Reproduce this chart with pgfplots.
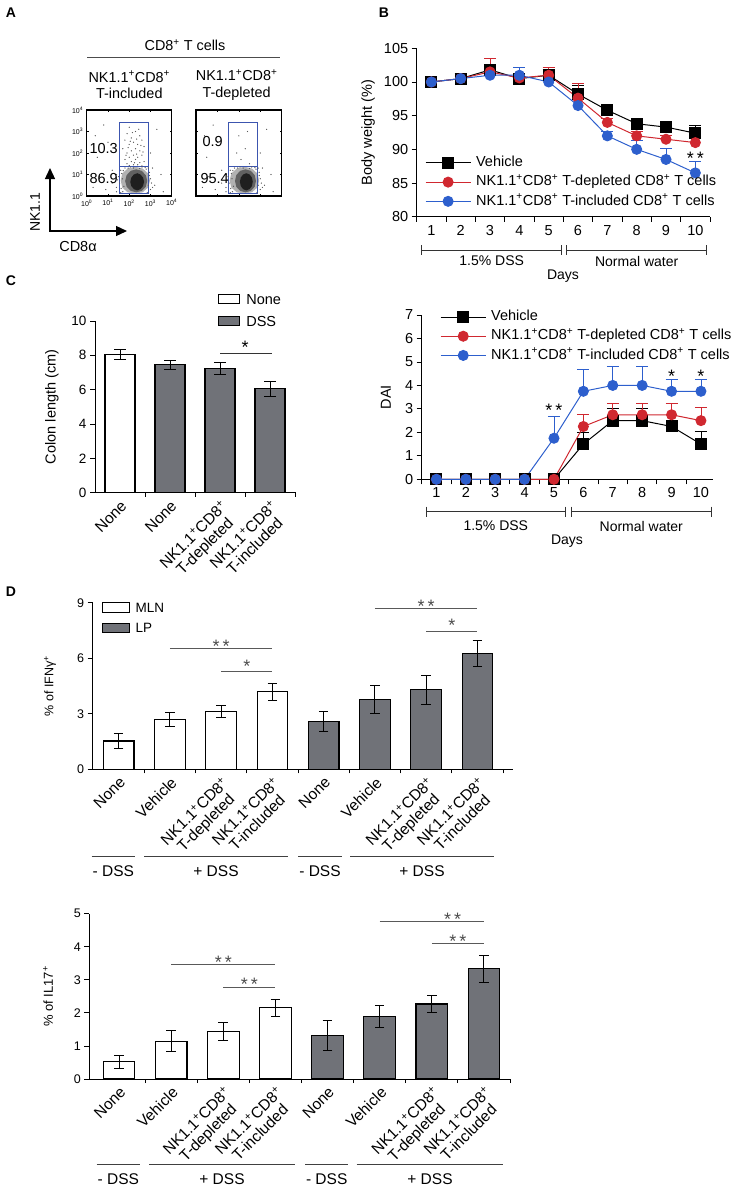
\documentclass[border=0pt]{standalone}
\usepackage{fontspec}
\setmainfont{Liberation Sans}
\usepackage{pgfplots}
\pgfplotsset{compat=1.18}
\usetikzlibrary{arrows.meta}
\definecolor{cred}{RGB}{208,40,48}
\definecolor{cblue}{RGB}{45,95,205}
\definecolor{barg}{RGB}{112,114,120}
\definecolor{gateblue}{RGB}{60,85,175}
\newcommand{\fs}[2]{\fontsize{#1pt}{#2pt}\selectfont}
\newcommand{\pl}{\textsuperscript{+}}
\pgfplotsset{
  base/.style={scale only axis, clip=false, anchor=south west,
    /pgf/number format/assume math mode=true,
    axis line style={-, line width=0.9pt},
    tick style={line width=0.8pt, black},
    tick label style={font=\fs{14.5}{16}},
    label style={font=\fs{14.5}{16}},
  },
  linechart/.style={base, axis x line*=bottom, axis y line*=left, tick align=outside,
    major tick length=5pt, minor tick length=5pt,
    xtick={1,...,10}, minor xtick={0.5,1.5,...,10.5}, major x tick style={draw=none},
    legend cell align=left,
    legend style={draw=none, fill=none, font=\fs{14.5}{16}, row sep=5.7pt, inner sep=0pt,
       nodes={inner sep=0pt, text height=10.5pt, text depth=3pt},
       /tikz/every odd column/.append style={column sep=5pt}},
  },
  lineleg/.style={legend image code/.code={\draw[mark repeat=2, mark phase=2, ##1] plot coordinates {(0pt,0pt) (22.5pt,0pt) (45pt,0pt)};}},
  ebl/.style={error bars/.cd, y dir=plus, y explicit, error bar style={line width=0.8pt, #1}, error mark options={rotate=90, mark size=6pt, line width=0.8pt, #1}},
  barchart/.style={base, ybar, bar shift=0pt, axis x line*=bottom, axis y line*=left, ymin=0,
    tick align=outside, major tick length=5pt, minor tick length=4pt, major x tick style={draw=none},
    xticklabel style={rotate=45, anchor=north east, align=center, font=\fs{15.5}{16}, inner sep=1pt},
    legend cell align=left,
    legend style={draw=none, fill=none, inner sep=0pt,
       nodes={inner sep=0pt, text height=10pt, text depth=0pt},
       /tikz/every odd column/.append style={column sep=6pt}},
  },
  barC/.style={legend image code/.code={\draw[##1] (0pt,-4.75pt) rectangle (21pt,4.75pt);}},
  barD/.style={legend image code/.code={\draw[##1] (0pt,-4.7pt) rectangle (26.6pt,4.7pt);}},
  ebb/.style={error bars/.cd, y dir=both, y explicit, error bar style={line width=0.9pt, black}, error mark options={rotate=90, mark size=#1, line width=0.9pt, black}},
  flow/.style={scale only axis, anchor=south west, xmin=0, xmax=4, ymin=0, ymax=4,
    xtick={0,...,4}, ytick={0,...,4}, tick align=inside, major tick length=2pt,
    axis line style={line width=1.2pt}, tick style={line width=0.6pt, black},
    tick label style={font=\fs{7}{8}}},
}
\begin{document}
\begin{tikzpicture}
\path[use as bounding box] (0pt,0pt) rectangle (734pt,-1188pt);

%================ Panel A =================
\begin{axis}[flow, at={(86.7pt,-196pt)}, width=85pt, height=86pt,
  xticklabels={10\textsuperscript{0},10\textsuperscript{1},10\textsuperscript{2},10\textsuperscript{3},10\textsuperscript{4}},
  yticklabels={10\textsuperscript{0},10\textsuperscript{1},10\textsuperscript{2},10\textsuperscript{3},10\textsuperscript{4}}]
\addplot[only marks, mark=*, mark size=0.35pt, black!65] coordinates {
(2.0,3.2)(2.3,3.0)(1.9,2.9)(2.5,2.8)(2.1,2.7)(2.6,2.6)(1.8,2.6)(2.2,2.5)(2.4,2.4)(2.0,2.4)
(2.7,2.3)(1.7,2.2)(2.3,2.2)(2.1,2.1)(2.5,2.1)(1.9,2.0)(2.6,1.9)(2.2,1.9)(2.4,1.8)(2.0,1.8)
(1.8,1.7)(2.3,1.7)(2.7,1.6)(2.1,1.6)(2.5,1.55)(1.9,1.5)(2.2,1.45)(2.4,1.45)(2.0,1.42)(2.6,1.4)
(2.35,2.65)(2.15,2.95)(2.45,3.1)(1.95,2.25)(2.55,2.35)(2.25,1.55)(2.05,2.55)(2.65,2.05)(1.85,1.9)(2.35,1.95)
(0.3,0.4)(0.6,0.9)(0.5,1.8)(0.9,0.3)(1.2,1.2)(1.0,2.5)(3.2,0.5)(3.5,1.0)(3.0,2.0)(3.3,3.1)
(0.8,3.3)(1.4,0.2)(3.1,1.3)(1.2,0.6)(1.4,1.0)(3.0,0.3)(3.6,0.2)(0.4,2.8)
(1.4,0.4)(1.5,0.9)(1.6,1.2)(1.7,0.2)(3.0,0.8)(2.95,1.1)(1.55,0.6)(1.65,1.05)(2.9,0.5)(1.8,1.3)
(2.8,1.25)(2.2,1.3)(2.5,1.28)(1.75,0.45)(1.45,0.75)(3.05,0.6)(2.85,0.15)(1.6,0.15)
(1.62,0.35)(1.68,0.8)(1.72,1.18)(2.95,0.95)(2.9,1.3)(2.75,1.32)(2.05,1.35)(1.95,1.3)(2.6,1.35)(3.1,0.4)};
\addplot[fill=black!30, draw=none] coordinates {(2.98,0.72)(2.886,1.05)(2.63,1.28)(2.28,1.36)(1.93,1.28)(1.674,1.05)(1.6,0.72)(1.674,0.39)(1.93,0.17)(2.28,0.12)(2.63,0.17)(2.886,0.39)};
\addplot[fill=black!62, draw=none] coordinates {(2.85,0.7)(2.78,0.97)(2.59,1.17)(2.33,1.24)(2.07,1.17)(1.88,0.97)(1.81,0.7)(1.88,0.43)(2.07,0.24)(2.33,0.17)(2.59,0.24)(2.78,0.43)};
\addplot[fill=black!88, draw=none] coordinates {(2.7,0.66)(2.65,0.86)(2.53,1.0)(2.38,1.06)(2.22,1.0)(2.1,0.86)(2.05,0.66)(2.1,0.46)(2.22,0.32)(2.38,0.26)(2.53,0.32)(2.65,0.46)};
\addplot[gateblue, line width=0.9pt] coordinates {(1.53,1.36)(2.9,1.36)(2.9,3.43)(1.53,3.43)(1.53,1.36)};
\addplot[gateblue, line width=0.9pt] coordinates {(1.53,0.13)(2.9,0.13)(2.9,1.36)(1.53,1.36)(1.53,0.13)};
\end{axis}

\begin{axis}[flow, at={(196pt,-196pt)}, width=85.7pt, height=86pt, xticklabels={}, yticklabels={}]
\addplot[only marks, mark=*, mark size=0.35pt, black!65] coordinates {
(2.0,2.8)(2.3,2.2)(2.1,1.7)(2.5,1.5)(1.9,2.0)(2.4,3.0)
(0.3,0.4)(0.6,0.9)(0.5,1.8)(0.9,0.3)(1.2,1.2)(1.0,2.5)(3.2,0.5)(3.5,1.0)(3.0,2.0)(3.3,3.1)
(0.8,3.3)(1.4,0.2)(3.1,1.3)(1.2,0.6)(1.4,1.0)(3.0,0.3)(3.6,0.2)(0.4,2.8)
(1.4,0.4)(1.5,0.9)(1.6,1.2)(1.7,0.2)(3.0,0.8)(2.95,1.1)(1.55,0.6)(1.65,1.05)(2.9,0.5)(1.8,1.3)
(2.8,1.25)(2.2,1.3)(2.5,1.28)(1.75,0.45)(1.45,0.75)(3.05,0.6)(2.85,0.15)(1.6,0.15)
(1.62,0.35)(1.68,0.8)(1.72,1.18)(2.95,0.95)(2.9,1.3)(2.75,1.32)(2.05,1.35)(1.95,1.3)(2.6,1.35)(3.1,0.4)};
\addplot[fill=black!30, draw=none] coordinates {(2.95,0.72)(2.86,1.05)(2.61,1.28)(2.26,1.36)(1.91,1.28)(1.65,1.05)(1.57,0.72)(1.65,0.39)(1.91,0.17)(2.26,0.12)(2.61,0.17)(2.86,0.39)};
\addplot[fill=black!62, draw=none] coordinates {(2.8,0.7)(2.74,0.97)(2.56,1.17)(2.31,1.24)(2.06,1.17)(1.88,0.97)(1.82,0.7)(1.88,0.43)(2.06,0.24)(2.31,0.17)(2.56,0.24)(2.74,0.43)};
\addplot[fill=black!88, draw=none] coordinates {(2.65,0.66)(2.61,0.86)(2.5,1.0)(2.35,1.06)(2.2,1.0)(2.09,0.86)(2.05,0.66)(2.09,0.46)(2.2,0.32)(2.35,0.26)(2.5,0.32)(2.61,0.46)};
\addplot[gateblue, line width=0.9pt] coordinates {(1.51,1.36)(2.86,1.36)(2.86,3.43)(1.51,3.43)(1.51,1.36)};
\addplot[gateblue, line width=0.9pt] coordinates {(1.51,0.13)(2.86,0.13)(2.86,1.36)(1.51,1.36)(1.51,0.13)};
\end{axis}

%================ Panel B =================
\begin{axis}[linechart, at={(416.7pt,-216.7pt)}, width=293.3pt, height=168.4pt,
  xmin=0.5, xmax=10.5, ymin=80, ymax=105, ytick={80,85,...,105},
  ylabel={Body weight (\%)}, ylabel style={at={(axis description cs:-0.166,0.5)}, anchor=center},
  legend style={at={(axis description cs:0.028,0.05)}, anchor=south west}]
\addplot[black, line width=1pt, mark=square*, mark size=5.5pt, lineleg, ebl=black] table[x=x,y=y,y error=e, row sep=\\] {
x y e\\ 1 100 0.3\\ 2 100.5 0.8\\ 3 101.8 0.7\\ 4 100.5 0.3\\ 5 101 0.9\\ 6 98.2 1.3\\ 7 95.8 0.4\\ 8 93.8 0.4\\ 9 93.3 0.8\\ 10 92.4 1.2\\};
\addlegendentry{Vehicle}
\addplot[cred, line width=1pt, mark=*, mark size=5pt, lineleg, ebl=cred] table[x=x,y=y,y error=e, row sep=\\] {
x y e\\ 1 100 0\\ 2 100.5 0.5\\ 3 101.5 2.0\\ 4 100.6 0.5\\ 5 101 1.2\\ 6 97.6 2.2\\ 7 94.0 0.6\\ 8 92.0 0.6\\ 9 91.5 0.5\\ 10 91.0 1.6\\};
\addlegendentry{NK1.1\pl CD8\pl\ T-depleted CD8\pl\ T cells}
\addplot[cblue, line width=1pt, mark=*, mark size=5pt, lineleg, ebl=cblue] table[x=x,y=y,y error=e, row sep=\\] {
x y e\\ 1 100 0\\ 2 100.5 0.3\\ 3 101 0.3\\ 4 101 1.2\\ 5 100 0.3\\ 6 96.5 1.0\\ 7 92 0.6\\ 8 90 1.3\\ 9 88.5 1.7\\ 10 86.5 1.7\\};
\addlegendentry{NK1.1\pl CD8\pl\ T-included CD8\pl\ T cells}
\node[font=\fs{18}{18}, yshift=-4pt] at (axis cs:10,89.2) {*\,*};
\end{axis}

%================ Panel C left =================
\begin{axis}[barchart, at={(95pt,-492.7pt)}, width=201pt, height=171.7pt,
  xmin=-0.5, xmax=3.52, ymax=10, ytick={0,2,...,10}, bar width=30pt,
  yticklabel style={font=\fs{13.5}{15}},
  xtick={0,1,2,3}, minor xtick={0.5,1.5,2.5,3.5},
  xticklabels={None, None, {NK1.1\pl CD8\pl\\T-depleted}, {NK1.1\pl CD8\pl\\T-included}},
  ylabel={Colon length (cm)}, ylabel style={at={(axis description cs:-0.214,0.5)}, anchor=center},
  legend style={at={(axis description cs:0.612,1.16)}, anchor=north west, row sep=11.5pt, font=\fs{14.5}{16}}]
\addplot[fill=white, draw=black, line width=1.1pt, barC, ebb=6pt] table[x=x,y=y,y error=e, row sep=\\] {x y e\\ 0 8.05 0.3\\};
\addlegendentry{None}
\addplot[fill=barg, draw=black, line width=1.1pt, barC, ebb=6pt] table[x=x,y=y,y error=e, row sep=\\] {x y e\\ 1 7.45 0.25\\ 2 7.25 0.35\\ 3 6.05 0.45\\};
\addlegendentry{DSS}
\draw[line width=0.8pt, black!80] (axis cs:2,8.14) -- (axis cs:3.04,8.14);
\node[font=\fs{18}{18}, yshift=-4pt] at (axis cs:2.5,8.7) {*};
\end{axis}

%================ Panel C right (DAI) =================
\begin{axis}[linechart, at={(421.7pt,-479.3pt)}, width=291pt, height=164.3pt,
  xmin=0.5, xmax=10.4, ymin=0, ymax=7, ytick={0,...,7},
  ylabel={DAI}, ylabel style={at={(axis description cs:-0.123,0.5)}, anchor=center},
  legend style={at={(axis description cs:0.063,1.03)}, anchor=north west}]
\addplot[black, line width=1pt, mark=square*, mark size=5.5pt, lineleg, ebl=black] table[x=x,y=y,y error=e, row sep=\\] {
x y e\\ 1 0 0\\ 2 0 0\\ 3 0 0\\ 4 0 0\\ 5 0 0\\ 6 1.5 0.5\\ 7 2.5 0.5\\ 8 2.5 0.5\\ 9 2.25 0\\ 10 1.5 0.55\\};
\addlegendentry{Vehicle}
\addplot[cred, line width=1pt, mark=*, mark size=5pt, lineleg, ebl=cred] table[x=x,y=y,y error=e, row sep=\\] {
x y e\\ 1 0 0\\ 2 0 0\\ 3 0 0\\ 4 0 0\\ 5 0 0\\ 6 2.25 0.5\\ 7 2.75 0.5\\ 8 2.75 0.5\\ 9 2.75 0.5\\ 10 2.5 0.55\\};
\addlegendentry{NK1.1\pl CD8\pl\ T-depleted CD8\pl\ T cells}
\addplot[cblue, line width=1pt, mark=*, mark size=5pt, lineleg, ebl=cblue] table[x=x,y=y,y error=e, row sep=\\] {
x y e\\ 1 0 0\\ 2 0 0\\ 3 0 0\\ 4 0 0\\ 5 1.75 0.95\\ 6 3.75 0.95\\ 7 4.0 0.8\\ 8 4.0 0.8\\ 9 3.75 0.5\\ 10 3.75 0.5\\};
\addlegendentry{NK1.1\pl CD8\pl\ T-included CD8\pl\ T cells}
\node[font=\fs{18}{18}, yshift=-4pt] at (axis cs:5,3.09) {*\,*};
\node[font=\fs{18}{18}, yshift=-4pt] at (axis cs:9,4.54) {*};
\node[font=\fs{18}{18}, yshift=-4pt] at (axis cs:10,4.54) {*};
\end{axis}

%================ Panel D top =================
\begin{axis}[barchart, at={(92.5pt,-769.3pt)}, width=420.8pt, height=166.6pt,
  xmin=-0.51, xmax=7.7, ymax=9, ytick={0,3,6,9}, bar width=30.7pt,
  yticklabel style={font=\fs{12.5}{14}},
  xtick={0,...,7}, minor xtick={0.5,1.5,...,7.5},
  xticklabels={None, Vehicle, {NK1.1\pl CD8\pl\\T-depleted}, {NK1.1\pl CD8\pl\\T-included}, None, Vehicle, {NK1.1\pl CD8\pl\\T-depleted}, {NK1.1\pl CD8\pl\\T-included}},
  ylabel={\% of IFNγ\pl}, ylabel style={at={(axis description cs:-0.101,0.5)}, anchor=center, font=\fs{12.5}{14}},
  legend style={at={(axis description cs:0.022,1.004)}, anchor=north west, row sep=10pt, font=\fs{13.5}{15}}]
\addplot[fill=white, draw=black, line width=1.1pt, barD, ebb=4.8pt] table[x=x,y=y,y error=e, row sep=\\] {x y e\\ 0 1.53 0.4\\ 1 2.70 0.37\\ 2 3.11 0.32\\ 3 4.18 0.47\\};
\addlegendentry{MLN}
\addplot[fill=barg, draw=black, line width=1.1pt, barD, ebb=4.8pt] table[x=x,y=y,y error=e, row sep=\\] {x y e\\ 4 2.59 0.55\\ 5 3.78 0.75\\ 6 4.30 0.77\\ 7 6.25 0.70\\};
\addlegendentry{LP}
\draw[line width=0.9pt, black!65] (axis cs:1,6.52) -- (axis cs:3,6.52);
\node[font=\fs{18}{18}, black!70, yshift=-4pt] at (axis cs:2,6.84) {*\,*};
\draw[line width=0.9pt, black!65] (axis cs:2,5.29) -- (axis cs:3,5.29);
\node[font=\fs{18}{18}, black!70, yshift=-4pt] at (axis cs:2.5,5.8) {*};
\draw[line width=0.9pt, black!65] (axis cs:5,8.69) -- (axis cs:7,8.69);
\node[font=\fs{18}{18}, black!70, yshift=-4pt] at (axis cs:6,9.0) {*\,*};
\draw[line width=0.9pt, black!65] (axis cs:6,7.45) -- (axis cs:7,7.45);
\node[font=\fs{18}{18}, black!70, yshift=-4pt] at (axis cs:6.5,7.97) {*};
\end{axis}

%================ Panel D bottom =================
\begin{axis}[barchart, at={(89.3pt,-1079pt)}, width=420.7pt, height=165.3pt,
  xmin=-0.57, xmax=7.5, ymax=5, ytick={0,...,5}, bar width=31.7pt,
  yticklabel style={font=\fs{12.5}{14}},
  xtick={0,...,7}, minor xtick={0.5,1.5,...,7.5},
  xticklabels={None, Vehicle, {NK1.1\pl CD8\pl\\T-depleted}, {NK1.1\pl CD8\pl\\T-included}, None, Vehicle, {NK1.1\pl CD8\pl\\T-depleted}, {NK1.1\pl CD8\pl\\T-included}},
  ylabel={\% of IL17\pl}, ylabel style={at={(axis description cs:-0.098,0.5)}, anchor=center, font=\fs{13}{15}}]
\addplot[fill=white, draw=black, line width=1.1pt, ebb=4.8pt] table[x=x,y=y,y error=e, row sep=\\] {x y e\\ 0 0.52 0.19\\ 1 1.14 0.32\\ 2 1.45 0.27\\ 3 2.15 0.27\\};
\addplot[fill=barg, draw=black, line width=1.1pt, ebb=4.8pt] table[x=x,y=y,y error=e, row sep=\\] {x y e\\ 4 1.31 0.45\\ 5 1.89 0.34\\ 6 2.27 0.27\\ 7 3.33 0.40\\};
\draw[line width=0.9pt, black!65] (axis cs:1,3.46) -- (axis cs:3,3.46);
\node[font=\fs{18}{18}, black!70, yshift=-4pt] at (axis cs:2,3.64) {*\,*};
\draw[line width=0.9pt, black!65] (axis cs:2,2.77) -- (axis cs:3,2.77);
\node[font=\fs{18}{18}, black!70, yshift=-4pt] at (axis cs:2.5,3.0) {*\,*};
\draw[line width=0.9pt, black!65] (axis cs:5,4.78) -- (axis cs:7,4.78);
\node[font=\fs{18}{18}, black!70, yshift=-4pt] at (axis cs:6.4,4.95) {*\,*};
\draw[line width=0.9pt, black!65] (axis cs:6,4.09) -- (axis cs:7,4.09);
\node[font=\fs{18}{18}, black!70, yshift=-4pt] at (axis cs:6.5,4.29) {*\,*};
\end{axis}

%================ Decorations (pixel coordinates) =================
\begin{scope}[x=1pt, y=-1pt]
\node[font=\fs{14}{16}\bfseries] at (11,13) {A};
\node[font=\fs{14}{16}\bfseries] at (384,13) {B};
\node[font=\fs{14}{16}\bfseries] at (11,281) {C};
\node[font=\fs{14}{16}\bfseries] at (11,592) {D};
\node[font=\fs{14.4}{16}] at (185,45) {CD8\pl\ T cells};
\draw[line width=0.8pt, black!70] (87.3,57.3) -- (280,57.3);
\node[font=\fs{14.4}{16.5}, align=center] at (129.3,85) {NK1.1\pl CD8\pl\\T-included};
\node[font=\fs{14.4}{16.5}, align=center] at (236.7,85) {NK1.1\pl CD8\pl\\T-depleted};
\node[font=\fs{14.5}{16}, anchor=west] at (86,148.3) {10.3};
\node[font=\fs{14.5}{16}, anchor=west] at (86,178.3) {86.9};
\node[font=\fs{14.5}{16}, anchor=west] at (199,141.7) {0.9};
\node[font=\fs{14.5}{16}, anchor=west] at (197,178.3) {95.4};
\draw[line width=1.3pt, -{Triangle[length=11pt,width=10pt]}] (50,231.6) -- (50,168);
\draw[line width=1.3pt, -{Triangle[length=11pt,width=10pt]}] (49.35,231) -- (127,231);
\node[font=\fs{14}{16}, rotate=90] at (35,212) {NK1.1};
\node[font=\fs{14.5}{16}] at (78,247) {CD8α};
\draw[line width=0.8pt, black!80] (421.7,250) -- (561.7,250) (421.7,245) -- (421.7,255) (561.7,245) -- (561.7,255);
\draw[line width=0.8pt, black!80] (566.7,250) -- (706.7,250) (566.7,245) -- (566.7,255) (706.7,245) -- (706.7,255);
\node[font=\fs{14}{16}] at (491.7,261) {1.5\% DSS};
\node[font=\fs{14}{16}] at (636.7,261) {Normal water};
\node[font=\fs{14}{16}] at (563,276) {Days};
\draw[line width=0.8pt, black!80] (426.7,511.7) -- (565,511.7) (426.7,506.7) -- (426.7,516.7) (565,506.7) -- (565,516.7);
\draw[line width=0.8pt, black!80] (571.7,511.7) -- (711,511.7) (571.7,506.7) -- (571.7,516.7) (711,506.7) -- (711,516.7);
\node[font=\fs{14}{16}] at (495.8,526) {1.5\% DSS};
\node[font=\fs{14}{16}] at (641.3,526) {Normal water};
\node[font=\fs{14}{16}] at (567,541) {Days};
\draw[line width=0.8pt, black!75] (91.7,856) -- (135,856) (144,856) -- (288.3,856) (298.3,856) -- (341.7,856) (350,856) -- (494,856);
\node[font=\fs{15.5}{17}] at (113.3,871) {- DSS};
\node[font=\fs{15.5}{17}] at (216,871) {+ DSS};
\node[font=\fs{15.5}{17}] at (320,871) {- DSS};
\node[font=\fs{15.5}{17}] at (422,871) {+ DSS};
\draw[line width=0.8pt, black!75] (96.7,1164.7) -- (140,1164.7) (149.3,1164.7) -- (295,1164.7) (305,1164.7) -- (348.3,1164.7) (356.7,1164.7) -- (503.3,1164.7);
\node[font=\fs{15.5}{17}] at (118.3,1179.5) {- DSS};
\node[font=\fs{15.5}{17}] at (222,1179.5) {+ DSS};
\node[font=\fs{15.5}{17}] at (326.7,1179.5) {- DSS};
\node[font=\fs{15.5}{17}] at (430,1179.5) {+ DSS};
\end{scope}
\end{tikzpicture}
\end{document}
